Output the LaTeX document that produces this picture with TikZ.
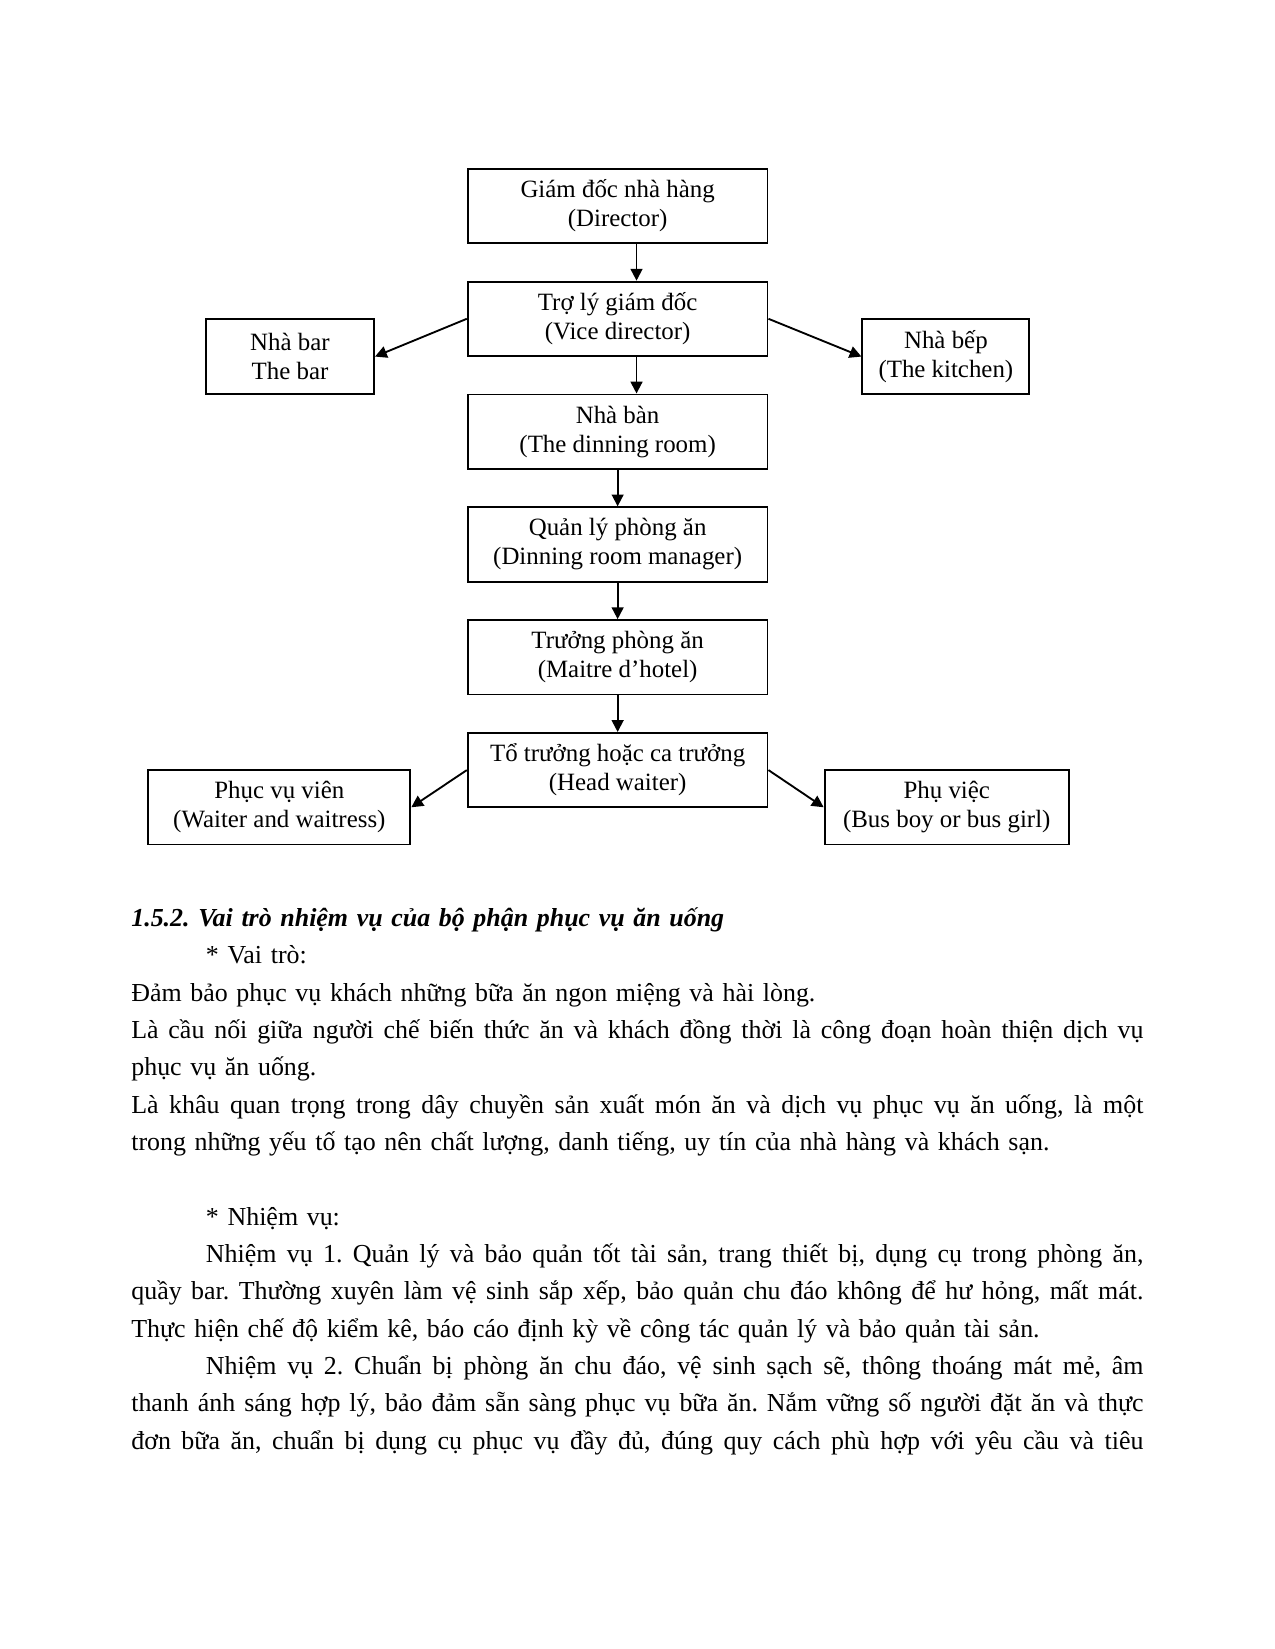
\documentclass[tikz,border=0pt]{standalone}
\usepackage{fontspec}
\setmainfont{Liberation Serif}
\usetikzlibrary{arrows.meta,positioning}
\frenchspacing
\newcommand{\fullline}[1]{\hbox to 17.15cm{\spaceskip=0.25em plus 1em minus 0.08em\relax #1}}
\newcommand{\firstindent}{\hspace*{36pt}}

\begin{document}
\begin{tikzpicture}[
    node distance=0.62cm and 1.58cm,
    box/.style={draw, line width=0.9pt, minimum width=5.08cm, minimum height=1.26cm,
                inner sep=1pt, align=center, font=\fontsize{12}{14}\selectfont},
    arr/.style={-{Triangle[length=2mm,width=2mm]}, line width=0.9pt},
    pagetext/.style={text width=17.15cm, inner sep=0pt, align=left,
                font=\fontsize{12.5}{18}\selectfont}
]
\useasboundingbox (0,0) rectangle (21.59,-27.94);
\node[box] (director) at (10.465,-3.49) {Giám đốc nhà hàng\\(Director)};
\node[box, below=of director] (vice) {Trợ lý giám đốc\\(Vice director)};
\node[box, below=of vice] (dining) {Nhà bàn\\(The dinning room)};
\node[box, below=of dining] (manager) {Quản lý phòng ăn\\(Dinning room manager)};
\node[box, below=of manager] (maitre) {Trưởng phòng ăn\\(Maitre d’hotel)};
\node[box, below=of maitre] (head) {Tổ trưởng hoặc ca trưởng\\(Head waiter)};
\node[box, minimum width=2.85cm, left=1.555cm of vice, yshift=-0.64cm] (bar) {Nhà bar\\The bar};
\node[box, minimum width=2.83cm, right=1.575cm of vice, yshift=-0.64cm] (kitchen) {Nhà bếp\\(The kitchen)};
\node[box, minimum width=4.44cm, left=0.94cm of head, yshift=-0.63cm] (waiter) {Phục vụ viên\\(Waiter and waitress)};
\node[box, minimum width=4.14cm, right=0.935cm of head, yshift=-0.63cm] (busboy) {Phụ việc\\(Bus boy or bus girl)};

\draw[arr] ([xshift=0.32cm]director.south) -- ([xshift=0.32cm]vice.north);
\draw[arr] ([xshift=0.32cm]vice.south) -- ([xshift=0.32cm]dining.north);
\draw[arr] (dining) -- (manager);
\draw[arr] (manager) -- (maitre);
\draw[arr] (maitre) -- (head);
\draw[arr] (vice.west) -- (bar.east);
\draw[arr] (vice.east) -- (kitchen.west);
\draw[arr] (head.west) -- (waiter.east);
\draw[arr] (head.east) -- (busboy.west);

\node[pagetext, anchor=base west] (section) at (2.218,-15.70) {%
{\bfseries\itshape 1.5.2. Vai trò nhiệm vụ của bộ phận phục vụ ăn uống}\par
\firstindent * Vai trò:\par
Đảm bảo phục vụ khách những bữa ăn ngon miệng và hài lòng.\par
\fullline{Là cầu nối giữa người chế biến thức ăn và khách đồng thời là công đoạn hoàn thiện dịch vụ}\par
phục vụ ăn uống.\par
\fullline{Là khâu quan trọng trong dây chuyền sản xuất món ăn và dịch vụ phục vụ ăn uống, là một}\par
trong những yếu tố tạo nên chất lượng, danh tiếng, uy tín của nhà hàng và khách sạn.\par
\null\par
\firstindent * Nhiệm vụ:\par
\fullline{\firstindent Nhiệm vụ 1. Quản lý và bảo quản tốt tài sản, trang thiết bị, dụng cụ trong phòng ăn,}\par
\fullline{quầy bar. Thường xuyên làm vệ sinh sắp xếp, bảo quản chu đáo không để hư hỏng, mất mát.}\par
Thực hiện chế độ kiểm kê, báo cáo định kỳ về công tác quản lý và bảo quản tài sản.\par
\fullline{\firstindent Nhiệm vụ 2. Chuẩn bị phòng ăn chu đáo, vệ sinh sạch sẽ, thông thoáng mát mẻ, âm}\par
\fullline{thanh ánh sáng hợp lý, bảo đảm sẵn sàng phục vụ bữa ăn. Nắm vững số người đặt ăn và thực}\par
\fullline{đơn bữa ăn, chuẩn bị dụng cụ phục vụ đầy đủ, đúng quy cách phù hợp với yêu cầu và tiêu}%
};
\end{tikzpicture}
\end{document}
